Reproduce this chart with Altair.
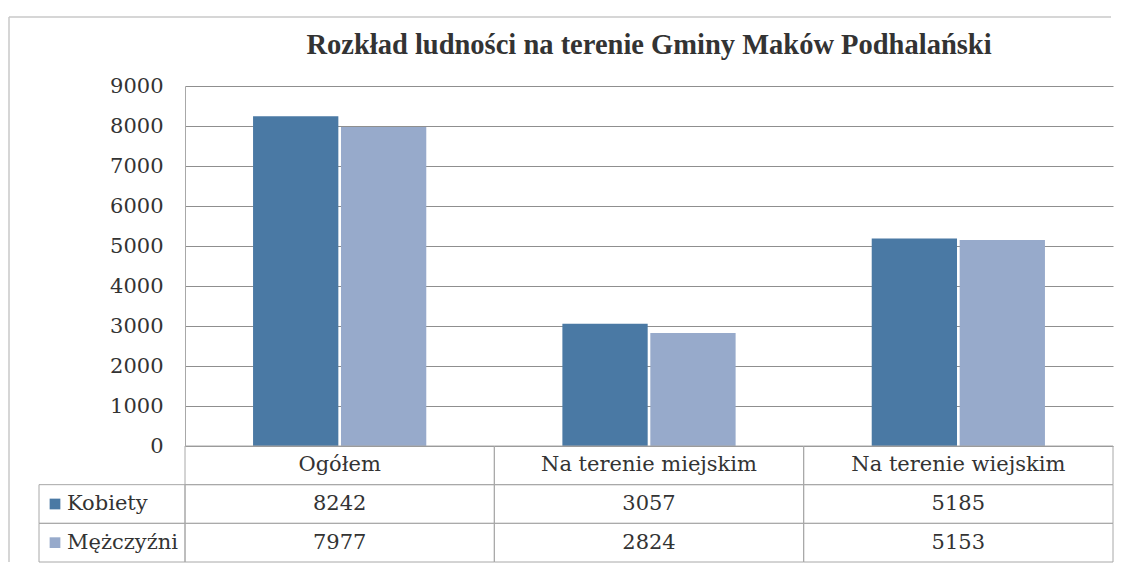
import altair as alt
import pandas as pd

# ---- data ----
categories = ["Ogółem", "Na terenie miejskim", "Na terenie wiejskim"]
series = ["Kobiety", "Mężczyźni"]
kobiety = [8242, 3057, 5185]
mezczyzni = [7977, 2824, 5153]
y_ticks = [0, 1000, 2000, 3000, 4000, 5000, 6000, 7000, 8000, 9000]
colors = ["#4a79a4", "#97aacb"]
title_text = "Rozkład ludności na terenie Gminy Maków Podhalański"

# ---- tables built from the arrays ----
rows = []
for s, vals in zip(series, [kobiety, mezczyzni]):
    for c, v in zip(categories, vals):
        rows.append({"category": c, "series": s, "value": v})
df = pd.DataFrame(rows)

row_keys = ["header"] + series
cells = [{"row": "header", "column": c, "text": c} for c in categories]
for s, vals in zip(series, [kobiety, mezczyzni]):
    for c, v in zip(categories, vals):
        cells.append({"row": s, "column": c, "text": str(v)})
cells_df = pd.DataFrame(cells)
labels_df = pd.DataFrame({"row": series, "series": series})

TITLE_FONT = "Liberation Serif"
FONT = "DejaVu Serif"
FS = 21
TEXT = "#333333"
GRID = "#8f8f8f"
LINE = "#a8a8a8"
W, H = 928, 360
TABLE_H = 116
TOP_GAP = 69    # frame top line to plot top
FRAME_X = -176  # frame left line, relative to plot left

color_scale = alt.Scale(domain=series, range=colors)

bars = alt.Chart(df).mark_bar().encode(
    x=alt.X("category:N", axis=None,
            scale=alt.Scale(domain=categories, paddingInner=0.44, paddingOuter=0.22)),
    xOffset=alt.XOffset("series:N", scale=alt.Scale(domain=series, paddingInner=0.03)),
    y=alt.Y("value:Q", scale=alt.Scale(domain=[0, 9000]),
            axis=alt.Axis(values=y_ticks, format="d", title=None, grid=True,
                          gridColor=GRID, gridWidth=1, domainColor=LINE,
                          ticks=False, labelPadding=22, labelFont=FONT,
                          labelFontSize=FS, labelColor=TEXT)),
    color=alt.Color("series:N", scale=color_scale, legend=None),
).properties(
    width=W, height=H,
    title=alt.TitleParams(title_text, font=TITLE_FONT, fontSize=28.5, fontWeight="bold",
                          color=TEXT, anchor="middle", frame="group", offset=16),
)

xs = alt.Scale(domain=categories, paddingInner=0, paddingOuter=0)
ys = alt.Scale(domain=row_keys, paddingInner=0, paddingOuter=0)

cell_rects = alt.Chart(cells_df).mark_rect(fill="transparent", stroke=LINE, strokeWidth=1).encode(
    x=alt.X("column:N", scale=xs, axis=None),
    y=alt.Y("row:N", scale=ys, axis=None),
)
label_rects = alt.Chart(labels_df).mark_rect(fill="transparent", stroke=LINE, strokeWidth=1).encode(
    x=alt.value(-146), x2=alt.value(0),
    y=alt.Y("row:N", scale=ys, axis=None),
)
cell_text = alt.Chart(cells_df).mark_text(font=FONT, fontSize=FS, color=TEXT).encode(
    x=alt.X("column:N", scale=xs, axis=None),
    y=alt.Y("row:N", scale=ys, axis=None),
    text="text:N",
)
label_text = alt.Chart(labels_df).mark_text(font=FONT, fontSize=FS, color=TEXT, align="left").encode(
    x=alt.value(-118),
    y=alt.Y("row:N", scale=ys, axis=None),
    text="row:N",
)
squares = alt.Chart(labels_df).mark_square(size=115, opacity=1).encode(
    x=alt.value(-130),
    y=alt.Y("row:N", scale=ys, axis=None),
    color=alt.Color("series:N", scale=color_scale, legend=None),
)
frame_data = alt.Data(values=[{"k": 1}])
frame_top = alt.Chart(frame_data).mark_rule(color="#c8c8c8", strokeWidth=1.5).encode(
    x=alt.value(FRAME_X), x2=alt.value(W - 2), y=alt.value(-(H + TOP_GAP)),
)
frame_left = alt.Chart(frame_data).mark_rule(color="#c8c8c8", strokeWidth=1.5).encode(
    x=alt.value(FRAME_X), y=alt.value(-(H + TOP_GAP)), y2=alt.value(TABLE_H),
)

table = alt.layer(frame_top, frame_left, cell_rects, label_rects, cell_text, label_text, squares).properties(
    width=W, height=TABLE_H,
)

chart = alt.vconcat(bars, table, spacing=0, bounds="flush").resolve_scale(
    x="independent", y="independent", color="shared"
).configure_view(strokeWidth=0).properties(
    padding={"left": 0, "top": 8, "right": 0, "bottom": 0}
)

chart.save("out.html", embed_options={"renderer": "svg", "actions": False})
